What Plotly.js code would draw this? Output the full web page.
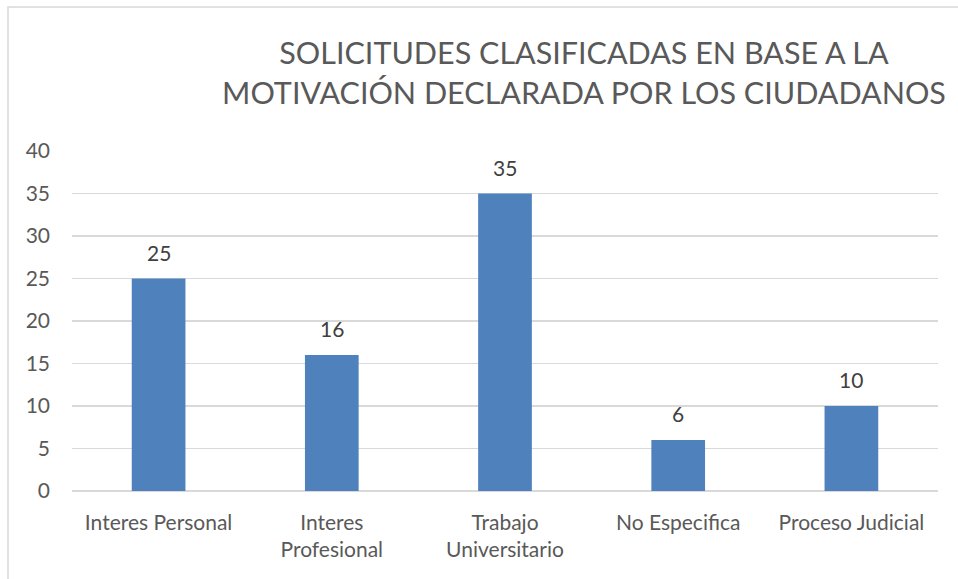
<!DOCTYPE html>
<html>
<head>
<meta charset="utf-8">
<script src="https://cdn.plot.ly/plotly-3.0.1.min.js"></script>
<style>
  html, body { margin: 0; padding: 0; background: #fff; }
  #chart { width: 958px; height: 579px; }
</style>
</head>
<body>
<div id="chart"></div>
<script>
// Solicitudes por motivación declarada
const categories = ['Interes Personal', 'Interes<br>Profesional', 'Trabajo<br>Universitario', 'No Especifica', 'Proceso Judicial'];
const solicitudes = [25, 16, 35, 6, 10];
const yTicks = [0, 5, 10, 15, 20, 25, 30, 35, 40];

const FONT = 'Lato, "Open Sans", sans-serif';
const TEXT_GREY = '#595959';

const trace = {
  type: 'bar',
  x: categories,
  y: solicitudes,
  marker: { color: '#4f81bd' },
  hoverinfo: 'x+y'
};

// value labels floated above each bar
const valueLabels = categories.map((c, i) => ({
  x: c,
  y: solicitudes[i],
  xref: 'x', yref: 'y',
  text: String(solicitudes[i]),
  showarrow: false,
  yanchor: 'bottom',
  yshift: 12,
  font: { family: FONT, size: 21, color: '#404040' }
}));

const layout = {
  width: 958,
  height: 579,
  paper_bgcolor: '#fff',
  plot_bgcolor: '#fff',
  margin: { l: 72, r: 20, t: 151, b: 88 },
  bargap: 0.69,
  showlegend: false,
  font: { family: FONT, color: TEXT_GREY },
  title: {
    text: 'SOLICITUDES CLASIFICADAS EN BASE A LA<br>MOTIVACIÓN DECLARADA POR LOS CIUDADANOS',
    font: { family: FONT, size: 30.5, color: TEXT_GREY },
    // paper x is relative to the plot area (72..938)
    x: (584 - 72) / 866,
    xanchor: 'center',
    xref: 'paper',
    y: 1 - 64 / 579,
    yanchor: 'top'
  },
  annotations: valueLabels,
  xaxis: {
    type: 'category',
    showgrid: false,
    showline: false,
    zeroline: false,
    ticks: '',
    ticklabelstandoff: 17,
    tickfont: { family: FONT, size: 21, color: TEXT_GREY },
    fixedrange: true
  },
  yaxis: {
    range: [0, 40],
    tickvals: yTicks,
    ticktext: yTicks.map(String),
    showgrid: true,
    gridcolor: '#d9d9d9',
    gridwidth: 1.5,
    zeroline: true,
    zerolinecolor: '#d9d9d9',
    zerolinewidth: 1.5,
    showline: false,
    ticks: '',
    ticklabelstandoff: 21,
    tickfont: { family: FONT, size: 21, color: TEXT_GREY },
    fixedrange: true
  },
  shapes: [{
    type: 'rect',
    xref: 'paper', yref: 'paper',
    x0: (8 - 72) / (958 - 92), x1: 1.2,
    y0: -1, y1: (491 - 7) / 340,
    line: { color: '#d9d9d9', width: 1.5 },
    fillcolor: 'rgba(0,0,0,0)',
    layer: 'below'
  }]
};

Plotly.newPlot('chart', [trace], layout, { displayModeBar: false, staticPlot: true });
</script>
</body>
</html>
